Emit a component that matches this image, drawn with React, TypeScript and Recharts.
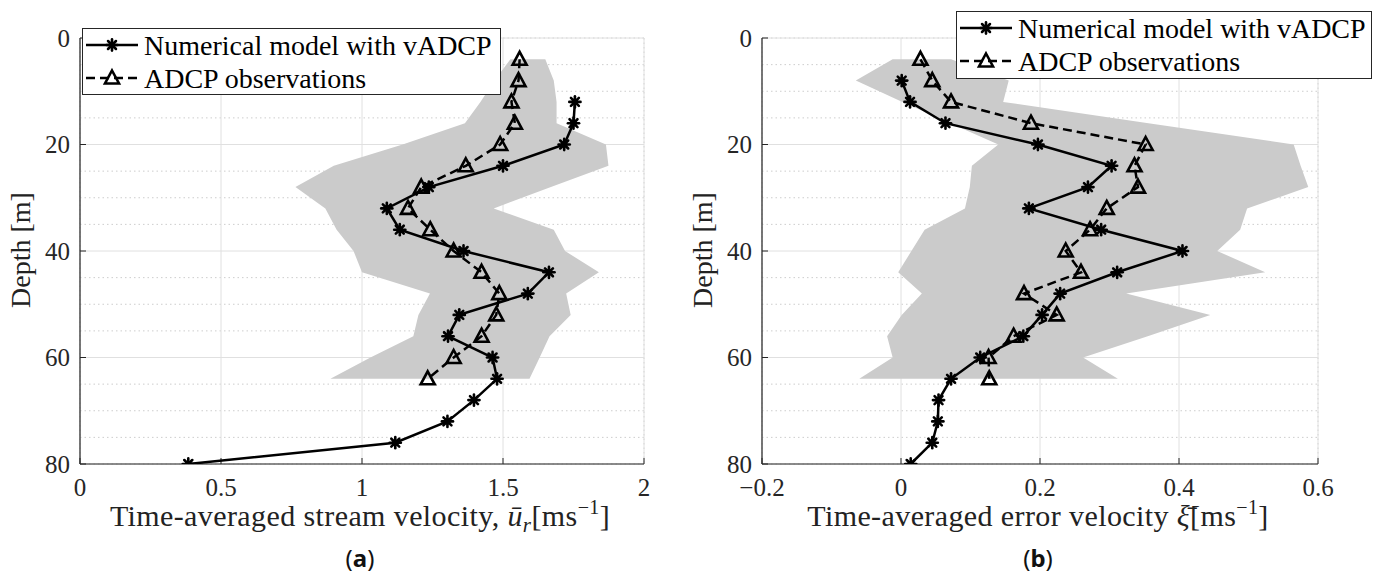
import React from "react";
import { CartesianGrid, ComposedChart, Legend, Scatter, XAxis, YAxis } from "recharts";

const SERIF = "Liberation Serif, DejaVu Serif, Times New Roman, serif";
const SANS = "Noto Sans, Open Sans, sans-serif";
const INK = "#262626";
const BAND = "#cbcbcb";

// depths shared by the observation series and the spread band
const obsDepth = [4, 8, 12, 16, 20, 24, 28, 32, 36, 40, 44, 48, 52, 56, 60, 64];
const depthTicks = [0, 20, 40, 60, 80];
const depthMinor = [5, 10, 15, 25, 30, 35, 45, 50, 55, 65, 70, 75];

// (a) stream velocity
const modelDepthA = [12, 16, 20, 24, 28, 32, 36, 40, 44, 48, 52, 56, 60, 64, 68, 72, 76, 80];
const modelVelA = [1.755, 1.75, 1.717, 1.5, 1.237, 1.088, 1.134, 1.36, 1.663, 1.588, 1.345, 1.305, 1.463, 1.479, 1.397, 1.303, 1.118, 0.384];
const obsVelA = [1.559, 1.555, 1.53, 1.542, 1.49, 1.368, 1.21, 1.163, 1.242, 1.325, 1.424, 1.487, 1.476, 1.424, 1.325, 1.233];
const bandLoA = [1.526, 1.47, 1.42, 1.365, 1.144, 0.9, 0.764, 0.87, 0.91, 0.97, 1.0, 1.241, 1.2, 1.182, 1.03, 0.888];
const bandHiA = [1.65, 1.68, 1.69, 1.69, 1.865, 1.874, 1.67, 1.467, 1.68, 1.72, 1.84, 1.724, 1.74, 1.665, 1.63, 1.594];
const xTicksA = [0, 0.5, 1, 1.5, 2];
const xMinorA = [0.1, 0.2, 0.3, 0.4, 0.6, 0.7, 0.8, 0.9, 1.1, 1.2, 1.3, 1.4, 1.6, 1.7, 1.8, 1.9];

// (b) error velocity
const modelDepthB = [8, 12, 16, 20, 24, 28, 32, 36, 40, 44, 48, 52, 56, 60, 64, 68, 72, 76, 80];
const modelErrB = [0.001, 0.013, 0.064, 0.197, 0.303, 0.269, 0.184, 0.288, 0.405, 0.311, 0.229, 0.203, 0.176, 0.114, 0.072, 0.054, 0.053, 0.045, 0.014];
const obsErrB = [0.028, 0.045, 0.072, 0.187, 0.352, 0.336, 0.341, 0.296, 0.272, 0.237, 0.259, 0.177, 0.224, 0.162, 0.126, 0.127];
const bandLoB = [-0.012, -0.065, 0.002, 0.071, 0.14, 0.102, 0.099, 0.092, 0.034, 0.015, -0.004, 0.03, 0.001, -0.02, -0.012, -0.06];
const bandHiB = [0.072, 0.155, 0.147, 0.356, 0.565, 0.575, 0.586, 0.498, 0.488, 0.455, 0.524, 0.324, 0.445, 0.355, 0.262, 0.312];
const xTicksB = [-0.2, 0, 0.2, 0.4, 0.6];
const xMinorB = [-0.15, -0.1, -0.05, 0.05, 0.1, 0.15, 0.25, 0.3, 0.35, 0.45, 0.5, 0.55];

type Pt = { v: number; d: number };

const profile = (vals: number[], depths: number[]): Pt[] => vals.map((v, i) => ({ v, d: depths[i] }));

// left edge top->bottom, then right edge back up: one closed outline
const outline = (lo: number[], hi: number[], depths: number[]): Pt[] => [
  ...lo.map((v, i) => ({ v, d: depths[i] })),
  ...hi.map((v, i) => ({ v, d: depths[i] })).reverse(),
];

const fmt = (v: number) => (v < 0 ? `\u2212${Math.abs(v)}` : `${v}`);

function StarMark({ cx, cy }: { cx?: number; cy?: number }) {
  if (cx == null || cy == null) return <g />;
  const r = 5.6;
  const k = r * 0.7071;
  return (
    <g stroke="#000" strokeWidth={2.6} strokeLinecap="round">
      <line x1={cx - r} y1={cy} x2={cx + r} y2={cy} />
      <line x1={cx} y1={cy - r} x2={cx} y2={cy + r} />
      <line x1={cx - k} y1={cy - k} x2={cx + k} y2={cy + k} />
      <line x1={cx - k} y1={cy + k} x2={cx + k} y2={cy - k} />
      <circle cx={cx} cy={cy} r={3.3} fill="#000" stroke="none" />
    </g>
  );
}

function TriMark({ cx, cy }: { cx?: number; cy?: number }) {
  if (cx == null || cy == null) return <g />;
  return (
    <polygon
      points={`${cx},${cy - 7.5} ${cx + 7},${cy + 5.5} ${cx - 7},${cy + 5.5}`}
      fill="none"
      stroke="#000"
      strokeWidth={2.6}
    />
  );
}

const NoMark = () => <g />;

function LegendBox({ width, height }: { width: number; height: number }) {
  const font = { fontSize: 28, fill: "#000", style: { fontFamily: SERIF } };
  return (
    <svg width={width} height={height} style={{ display: "block" }}>
      <rect x={0.5} y={0.5} width={width - 1} height={height - 1} fill="#fff" stroke={INK} strokeWidth={1} />
      <line x1={4} x2={56} y1={17} y2={17} stroke="#000" strokeWidth={2.5} />
      <StarMark cx={30} cy={17} />
      <text x={62} y={17} dominantBaseline="central" {...font}>
        Numerical model with vADCP
      </text>
      <line x1={4} x2={58} y1={50} y2={50} stroke="#000" strokeWidth={2.5} strokeDasharray="9 5" />
      <TriMark cx={30} cy={50} />
      <text x={62} y={50} dominantBaseline="central" {...font}>
        ADCP observations
      </text>
    </svg>
  );
}

function Panel({
  left,
  width,
  rightMargin,
  yAxisWidth,
  domain,
  ticks,
  minor,
  band,
  model,
  obs,
  legendPos,
}: {
  left: number;
  width: number;
  rightMargin: number;
  yAxisWidth: number;
  domain: [number, number];
  ticks: number[];
  minor: number[];
  band: Pt[];
  model: Pt[];
  obs: Pt[];
  legendPos: { left: number; top: number; width: number; height: number };
}) {
  const tickFont = { fontSize: 25, fill: INK, style: { fontFamily: SERIF } };
  return (
    <div style={{ position: "absolute", left, top: 0 }}>
      <ComposedChart width={width} height={576} margin={{ top: 38, right: rightMargin, bottom: 0, left: 0 }}>
        <XAxis xAxisId="minor" type="number" domain={domain} ticks={minor} hide allowDataOverflow />
        <YAxis yAxisId="minor" type="number" domain={[0, 80]} ticks={depthMinor} reversed hide allowDataOverflow />
        <CartesianGrid xAxisId="minor" yAxisId="minor" stroke="#cdcdcd" strokeDasharray="1.5 3" />
        <CartesianGrid stroke="#e0e0e0" />
        <XAxis
          type="number"
          dataKey="v"
          domain={domain}
          ticks={ticks}
          interval={0}
          allowDataOverflow
          height={112}
          tickSize={-6}
          tickMargin={20}
          tickFormatter={fmt}
          tick={tickFont}
          axisLine={{ stroke: INK, strokeWidth: 1.2 }}
          tickLine={{ stroke: INK }}
        />
        <YAxis
          type="number"
          dataKey="d"
          domain={[0, 80]}
          ticks={depthTicks}
          interval={0}
          reversed
          allowDataOverflow
          width={yAxisWidth}
          tickSize={-6}
          tickMargin={16}
          tick={tickFont}
          axisLine={{ stroke: INK, strokeWidth: 1.2 }}
          tickLine={{ stroke: INK }}
        />
        <XAxis
          xAxisId="top"
          orientation="top"
          type="number"
          domain={domain}
          ticks={ticks}
          interval={0}
          height={0}
          tick={false}
          tickSize={-6}
          axisLine={{ stroke: INK, strokeWidth: 1.2 }}
          tickLine={{ stroke: INK }}
        />
        <YAxis
          yAxisId="right"
          orientation="right"
          type="number"
          domain={[0, 80]}
          ticks={depthTicks}
          interval={0}
          reversed
          width={0}
          tick={false}
          tickSize={-6}
          axisLine={{ stroke: INK, strokeWidth: 1.2 }}
          tickLine={{ stroke: INK }}
        />
        <Scatter
          data={band}
          shape={NoMark}
          line={{ stroke: "none", fill: BAND }}
          lineType="joint"
          isAnimationActive={false}
        />
        <Scatter
          data={model}
          shape={(p: any) => <StarMark cx={p.cx} cy={p.cy} />}
          line={{ stroke: "#000", strokeWidth: 2.5 }}
          lineType="joint"
          isAnimationActive={false}
        />
        <Scatter
          data={obs}
          shape={(p: any) => <TriMark cx={p.cx} cy={p.cy} />}
          line={{ stroke: "#000", strokeWidth: 2.5, strokeDasharray: "9 5" }}
          lineType="joint"
          isAnimationActive={false}
        />
        <Legend
          layout="vertical"
          align="center"
          verticalAlign="middle"
          content={() => <LegendBox width={legendPos.width} height={legendPos.height} />}
          wrapperStyle={{ ...legendPos, position: "absolute" }}
        />
      </ComposedChart>
    </div>
  );
}

function Titles() {
  const ylab = { fontSize: 28, fill: "#222", style: { fontFamily: SERIF } };
  const xlab = { fontSize: 30, fill: "#222", style: { fontFamily: SERIF, letterSpacing: "0.4px" } };
  const cap = { fontSize: 24, fill: "#111", style: { fontFamily: SANS } };
  return (
    <svg width={1376} height={576} style={{ position: "absolute", left: 0, top: 0, pointerEvents: "none" }}>
      <text x={30} y={250} transform="rotate(-90 30 250)" textAnchor="middle" {...ylab}>
        Depth [m]
      </text>
      <text x={712} y={250} transform="rotate(-90 712 250)" textAnchor="middle" {...ylab}>
        Depth [m]
      </text>
      <text x={360} y={526} textAnchor="middle" {...xlab}>
        Time-averaged stream velocity, <tspan fontStyle="italic">{"\u016b"}</tspan>
        <tspan fontStyle="italic" fontSize={21} dy={6}>r</tspan>
        <tspan dy={-6}>[ms</tspan>
        <tspan fontSize={20} dy={-12}>{"\u22121"}</tspan>
        <tspan dy={12}>]</tspan>
      </text>
      <text x={1038} y={526} textAnchor="middle" {...xlab}>
        Time-averaged error velocity <tspan fontStyle="italic">{"\u03be\u0304"}</tspan>
        <tspan>[ms</tspan>
        <tspan fontSize={20} dy={-12}>{"\u22121"}</tspan>
        <tspan dy={12}>]</tspan>
      </text>
      <text x={360} y={567} textAnchor="middle" {...cap}>
        (<tspan fontWeight="bold">a</tspan>)
      </text>
      <text x={1038} y={567} textAnchor="middle" {...cap}>
        (<tspan fontWeight="bold">b</tspan>)
      </text>
    </svg>
  );
}

export default function App() {
  return (
    <div style={{ position: "absolute", left: 0, top: 0, width: 1376, height: 576, background: "#fff", overflow: "hidden" }}>
      <Panel
        left={0}
        width={700}
        rightMargin={56}
        yAxisWidth={80}
        domain={[0, 2]}
        ticks={xTicksA}
        minor={xMinorA}
        band={outline(bandLoA, bandHiA, obsDepth)}
        model={profile(modelVelA, modelDepthA)}
        obs={profile(obsVelA, obsDepth)}
        legendPos={{ left: 82, top: 28, width: 419, height: 67 }}
      />
      <Panel
        left={680}
        width={696}
        rightMargin={58}
        yAxisWidth={82}
        domain={[-0.2, 0.6]}
        ticks={xTicksB}
        minor={xMinorB}
        band={outline(bandLoB, bandHiB, obsDepth)}
        model={profile(modelErrB, modelDepthB)}
        obs={profile(obsErrB, obsDepth)}
        legendPos={{ left: 276, top: 11, width: 416, height: 68 }}
      />
      <Titles />
    </div>
  );
}
